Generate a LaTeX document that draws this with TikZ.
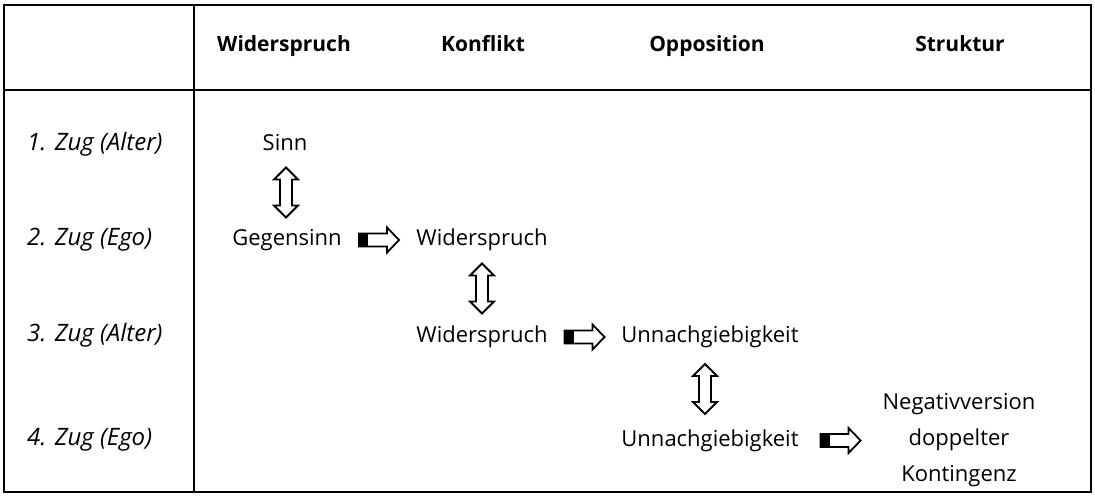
\documentclass[tikz,border=0pt]{standalone}
\usepackage{fontspec}
\setmainfont{Open Sans}
\usetikzlibrary{calc}
\tikzset{
  txt/.style={font=\fontsize{22}{26}\selectfont, inner sep=0pt, text height=16pt, text depth=5pt},
  head/.style={txt, font=\fontsize{21}{26}\selectfont\bfseries},
  rowlab/.style={txt, font=\fontsize{24}{26}\selectfont\itshape, anchor=west},
  multi/.style={font=\fontsize{22}{36}\selectfont, inner sep=0pt, align=center},
  harr/.pic={
    \fill (-20,-6.5) rectangle (-11,6.5);
    \draw[line width=1.8pt, line join=miter] (-20,-6.5) -- (8,-6.5) -- (8,-12.5) -- (20,0) -- (8,12.5) -- (8,6.5) -- (-20,6.5) -- cycle;
  },
  varr/.pic={
    \draw[line width=1.8pt, line join=miter] (0,-25) -- (12,-13) -- (6,-13) -- (6,13) -- (12,13) -- (0,25) -- (-12,13) -- (-6,13) -- (-6,-13) -- (-12,-13) -- cycle;
  }
}
\begin{document}
\begin{tikzpicture}[x=1pt,y=-1pt]
\useasboundingbox (0,0) rectangle (1095,496);
% table frame
\draw[line width=2.4pt] (4,5) rectangle (1091,492);
\draw[line width=1.5pt] (194,5) -- (194,492);
\draw[line width=1.5pt] (4,90) -- (1091,90);
% headers
\node[head] (h1) at (284,46) {Widerspruch};
\node[head] (h2) at (483,46) {Konflikt};
\node[head] (h3) at (707,46) {Opposition};
\node[head] (h4) at (960,46) {Struktur};
% row labels
\node[rowlab] (r1) at (27,145) {1. Zug (Alter)};
\node[rowlab] (r2) at (27,240) {2. Zug (Ego)};
\node[rowlab] (r3) at (27,336) {3. Zug (Alter)};
\node[rowlab] (r4) at (27,440) {4. Zug (Ego)};
% content
\node[txt] (sinn) at (285,145) {Sinn};
\node[txt] (gegen) at (287,240) {Gegensinn};
\node[txt] (wid2) at (482,240) {Widerspruch};
\node[txt] (wid3) at (482,337) {Widerspruch};
\node[txt] (unn3) at (710,337) {Unnachgiebigkeit};
\node[txt] (unn4) at (710,441) {Unnachgiebigkeit};
\node[multi] (neg) at (959,440) {Negativversion\\doppelter\\Kontingenz};
% arrows
\pic at ($(sinn.south)!0.5!(gegen.north)$) {varr};
\pic at ($(gegen.east)!0.5!(wid2.west)$) {harr};
\pic at ($(wid2.south)!0.5!(wid3.north)$) {varr};
\pic at ($(wid3.east)!0.5!(unn3.west)$) {harr};
\pic[xshift=-5pt] at ($(unn3.south)!0.5!(unn4.north)$) {varr};
\pic at ($(unn4.east)!0.5!(neg.west)$) {harr};
\end{tikzpicture}
\end{document}
